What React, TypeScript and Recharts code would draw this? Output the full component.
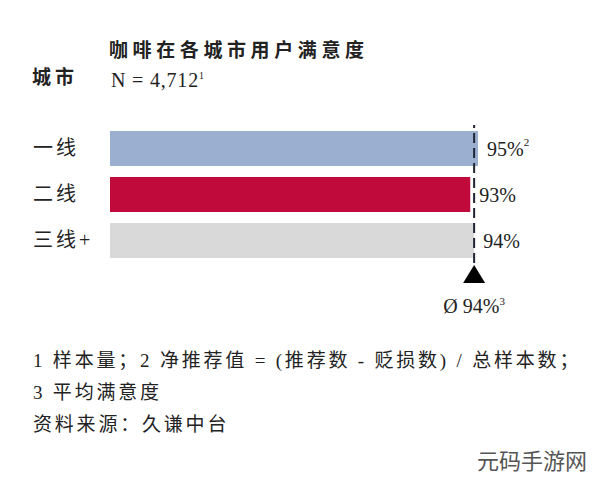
import { BarChart, Bar, XAxis, YAxis, Cell, LabelList, ReferenceLine } from 'recharts';

const cities = ['一线', '二线', '三线+'];
const satisfaction = [95, 93, 94];
const noteMarks = ['2', '', ''];
const barColors = ['#9bafd0', '#c10a3c', '#d9d9d9'];
const average = 94;
const sampleSize = '4,712';

const data = cities.map((name, i) => ({ name, value: satisfaction[i], note: noteMarks[i] }));

const serif = '"Liberation Serif", "Noto Sans CJK SC", serif';

const CityTick = (props: any) => {
  const { y, payload } = props;
  return (
    <text x={33} y={y} dominantBaseline="central" fontFamily={serif} fontSize={20} letterSpacing={3} fill="#222">
      {payload.value}
    </text>
  );
};

const ValueLabel = (props: any) => {
  const { x, y, width, height, index } = props;
  const note = noteMarks[index];
  return (
    <text x={x + width + 9} y={y + height / 2} dominantBaseline="central" fontFamily={serif} fontSize={20} fill="#222">
      {satisfaction[index]}%
      {note ? <tspan dy={-7} fontSize={11}>{note}</tspan> : null}
    </text>
  );
};

const AvgMarker = (props: any) => {
  const vb = props.viewBox || {};
  const x = vb.x;
  const bottom = vb.y + vb.height;
  return (
    <g>
      <path d={`M${x},${bottom + 2} L${x + 11},${bottom + 20} L${x - 11},${bottom + 20} Z`} fill="#000" />
      <text x={x} y={bottom + 50} textAnchor="middle" fontFamily={serif} fontSize={20} fill="#222">
        Ø {average}%<tspan dy={-8} fontSize={11}>3</tspan>
      </text>
    </g>
  );
};

const App = () => {
  return (
    <div style={{ position: 'absolute', left: 0, top: 0, width: 600, height: 478, background: '#fff', overflow: 'hidden', fontFamily: serif, color: '#222' }}>
      <div style={{ position: 'absolute', left: 109, top: 37, fontSize: 19, fontWeight: 'bold', letterSpacing: 4.6, lineHeight: '24px', fontFamily: '"Noto Sans CJK SC", sans-serif' }}>
        咖啡在各城市用户满意度
      </div>
      <div style={{ position: 'absolute', left: 32, top: 64, fontSize: 19, fontWeight: 'bold', letterSpacing: 4, lineHeight: '24px', fontFamily: '"Noto Sans CJK SC", sans-serif' }}>
        城市
      </div>
      <div style={{ position: 'absolute', left: 111, top: 64, fontSize: 20, letterSpacing: 0.8, lineHeight: '24px' }}>
        N = {sampleSize}<sup style={{ fontSize: 10 }}>1</sup>
      </div>

      <div style={{ position: 'absolute', left: 0, top: 0 }}>
        <BarChart
          width={600}
          height={330}
          data={data}
          layout="vertical"
          margin={{ top: 125, right: 122, bottom: 67, left: 0 }}
          barSize={35}
        >
          <XAxis type="number" domain={[0, 95]} hide />
          <YAxis type="category" dataKey="name" width={110} axisLine={false} tickLine={false} tick={<CityTick />} />
          <Bar dataKey="value" isAnimationActive={false}>
            {data.map((d, i) => (
              <Cell key={d.name} fill={barColors[i]} />
            ))}
            <LabelList dataKey="value" content={<ValueLabel />} />
          </Bar>
          <ReferenceLine x={average} stroke="#1f2533" strokeWidth={2} strokeDasharray="10 5" label={<AvgMarker />} />
        </BarChart>
      </div>

      <div style={{ position: 'absolute', left: 33, top: 345, fontSize: 19, letterSpacing: 2.8, lineHeight: '32px' }}>
        <div>1 样本量；2 净推荐值 = (推荐数 - 贬损数) / 总样本数；</div>
        <div>3 平均满意度</div>
        <div>资料来源：久谦中台</div>
      </div>

      <div style={{ position: 'absolute', left: 477, top: 446, fontSize: 22, color: '#555', fontFamily: '"Noto Sans CJK SC", sans-serif', lineHeight: '26px', whiteSpace: 'nowrap' }}>
        元码手游网
      </div>
    </div>
  );
};

export default App;
